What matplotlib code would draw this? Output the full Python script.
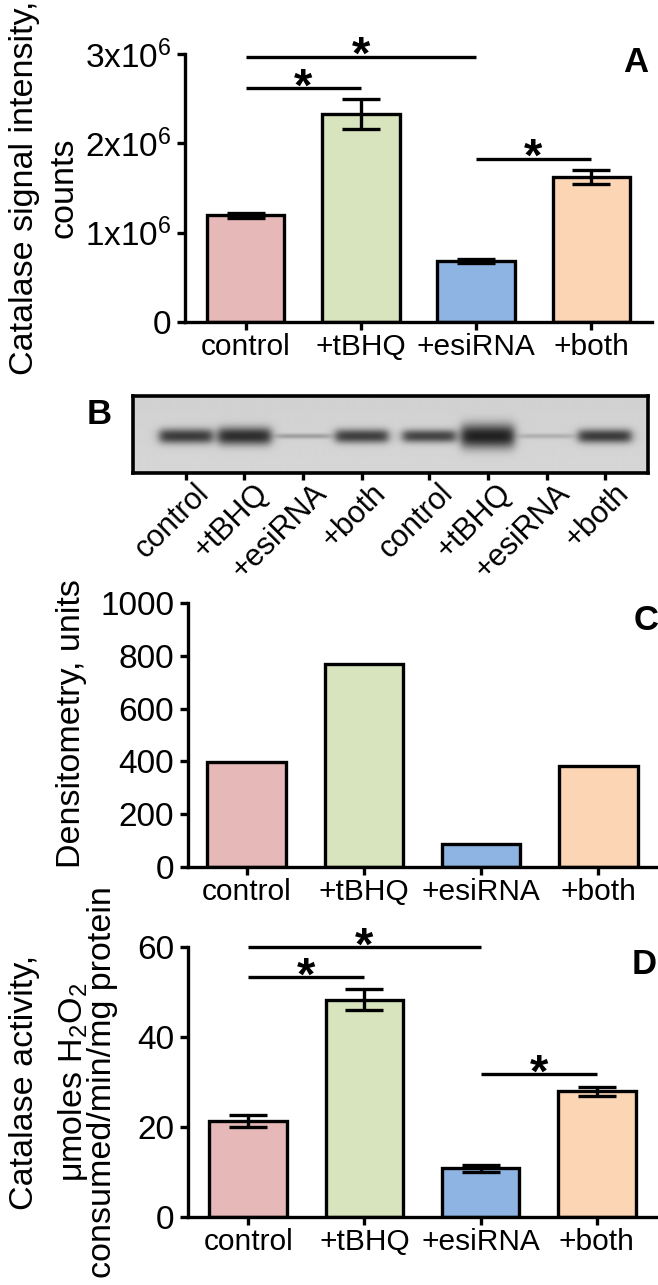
import numpy as np
import matplotlib
matplotlib.use("Agg")
import matplotlib.pyplot as plt
import matplotlib.transforms as mtransforms

plt.rcParams['font.family'] = ['Liberation Sans', 'DejaVu Sans']
plt.rcParams['mathtext.fontset'] = 'custom'
plt.rcParams['mathtext.rm'] = 'Liberation Sans'
plt.rcParams['mathtext.it'] = 'Liberation Sans:italic'
plt.rcParams['mathtext.bf'] = 'Liberation Sans:bold'

groups = ['control', '+tBHQ', '+esiRNA', '+both']
bar_colors = ['#e6b8b7', '#d7e4bd', '#8db4e2', '#fcd5b5']

# A - catalase signal intensity, counts
signal_mean = [1.195e6, 2.33e6, 0.685e6, 1.625e6]
signal_err = [0.03e6, 0.17e6, 0.02e6, 0.075e6]
signal_ticks = [0, 1e6, 2e6, 3e6]
signal_ticklabels = ['0', '1x10$^{6}$', '2x10$^{6}$', '3x10$^{6}$']
sig_A = [(0, 2, 2.97e6), (0, 1, 2.62e6), (2, 3, 1.83e6)]

# B - western blot, two sets of the four groups
blot_lanes = groups * 2
blot_strength = [0.85, 0.93, 0.30, 0.83, 0.80, 1.0, 0.20, 0.85]
blot_thickness = [15, 18, 5, 14, 13, 24, 5, 14]

# C - densitometry
densito = [399, 770, 86, 384]
densito_ticks = [0, 200, 400, 600, 800, 1000]

# D - catalase activity
activity_mean = [21.4, 48.3, 10.8, 28.0]
activity_err = [1.3, 2.3, 0.8, 1.0]
activity_ticks = [0, 20, 40, 60]
sig_D = [(0, 2, 60.0), (0, 1, 53.3), (2, 3, 31.8)]

W, H = 658, 1285
fig = plt.figure(figsize=(W / 100, H / 100), dpi=100)


def px_axes(l, t, r, b):
    return fig.add_axes([l / W, 1 - b / H, (r - l) / W, (b - t) / H])


LW = 2.4


def bar_panel(ax, values, errs, ymax, yticks, yticklabels, pad):
    x = np.arange(len(values))
    ax.bar(x, values, width=0.67, color=bar_colors, edgecolor='black',
           linewidth=LW, zorder=2)
    if errs is not None:
        ax.errorbar(x, values, yerr=errs, fmt='none', ecolor='black',
                    elinewidth=LW, capsize=13.5, capthick=LW, zorder=3)
    ax.set_xlim(-pad, len(values) - 1 + pad)
    ax.set_ylim(0, ymax)
    for s in ['top', 'right']:
        ax.spines[s].set_visible(False)
    for s in ['left', 'bottom']:
        ax.spines[s].set_linewidth(LW)
    ax.set_xticks(x)
    ax.set_xticklabels(groups, fontsize=21.5)
    ax.set_yticks(yticks)
    ax.set_yticklabels(yticklabels, fontsize=24)
    ax.tick_params(axis='both', direction='out', length=6, width=LW, pad=2)
    ax.tick_params(axis='y', pad=4)
    ax.patch.set_alpha(0)


def add_sig(ax, sigs, dy):
    for i, j, y in sigs:
        ax.plot([i, j], [y, y], color='black', lw=LW, clip_on=False,
                solid_capstyle='butt')
        ax.annotate('*', xy=((i + j) / 2, y), xytext=(0, -dy),
                    textcoords='offset points', ha='center', va='baseline',
                    fontsize=34, fontweight='bold', annotation_clip=False)


def ylabel_lines(lines, xs, yc, size=24.5):
    for txt, xb in zip(lines, xs):
        fig.text(xb / W, 1 - yc / H, txt, rotation=90, rotation_mode='anchor',
                 ha='center', va='baseline', fontsize=size)


# Panel A
axA = px_axes(185, 54, 652, 322)
bar_panel(axA, signal_mean, signal_err, 3e6, signal_ticks, signal_ticklabels, 0.53)
add_sig(axA, sig_A, 9)
ylabel_lines(['Catalase signal intensity,', 'counts'], [33, 72], 188)
fig.text(636 / W, 1 - 63 / H, 'A', fontsize=25, fontweight='bold',
         ha='center', va='center')

# Panel B - blot image
axB = px_axes(133, 396, 648, 473)
lane_x = np.arange(len(blot_lanes)) + 0.15 * (np.arange(len(blot_lanes)) >= 4)
x0, x1 = -0.9, lane_x[-1] + 0.73
gx = np.linspace(x0, x1, 700)
gy = np.arange(0, 77, 0.25)
XX, YY = np.meshgrid(gx, gy)
img = 0.82 + 0.02 * (YY / 77.0)
for lx, st, th in zip(lane_x, blot_strength, blot_thickness):
    horiz = 1.0 / (1.0 + np.exp((np.abs(XX - lx) - 0.45) / 0.045))
    vert = np.exp(-(np.abs(YY - 40.0) / (th / 2.0)) ** 2.2)
    img = img - st * 0.70 * horiz * vert
img = np.clip(img, 0, 1)
axB.imshow(img, cmap='gray', vmin=0, vmax=1, extent=(x0, x1, 77, 0),
           aspect='auto', interpolation='bilinear')
axB.set_xlim(x0, x1)
axB.set_ylim(77, 0)
for s in axB.spines.values():
    s.set_linewidth(2.6)
axB.set_yticks([])
axB.set_xticks(lane_x)
axB.set_xticklabels([])
axB.tick_params(axis='x', direction='out', length=5, width=LW)
off = mtransforms.ScaledTranslation(25 / 100, -21 / 100, fig.dpi_scale_trans)
trB = mtransforms.blended_transform_factory(axB.transData, axB.transAxes) + off
for lx, lab in zip(lane_x, blot_lanes):
    axB.text(lx, 0, lab, transform=trB, rotation=45, rotation_mode='anchor',
             ha='right', va='baseline', fontsize=22)
fig.text(99 / W, 1 - 414 / H, 'B', fontsize=25, fontweight='bold',
         ha='center', va='center')

# Panel C
axC = px_axes(188, 603, 657, 867)
bar_panel(axC, densito, None, 1000, densito_ticks, [str(t) for t in densito_ticks], 0.5)
ylabel_lines(['Densitometry, units'], [80], 724)
fig.text(646 / W, 1 - 620 / H, 'C', fontsize=25, fontweight='bold',
         ha='center', va='center')

# Panel D
axD = px_axes(188, 947, 657, 1217)
bar_panel(axD, activity_mean, activity_err, 60, activity_ticks,
          [str(t) for t in activity_ticks], 0.52)
add_sig(axD, sig_D, 9)
ylabel_lines(['Catalase activity,', 'μmoles H$_{2}$O$_{2}$',
              'consumed/min/mg protein'], [33, 82, 111], 1082)
fig.text(644 / W, 1 - 965 / H, 'D', fontsize=25, fontweight='bold',
         ha='center', va='center')

fig.savefig('out.png', dpi=100)
